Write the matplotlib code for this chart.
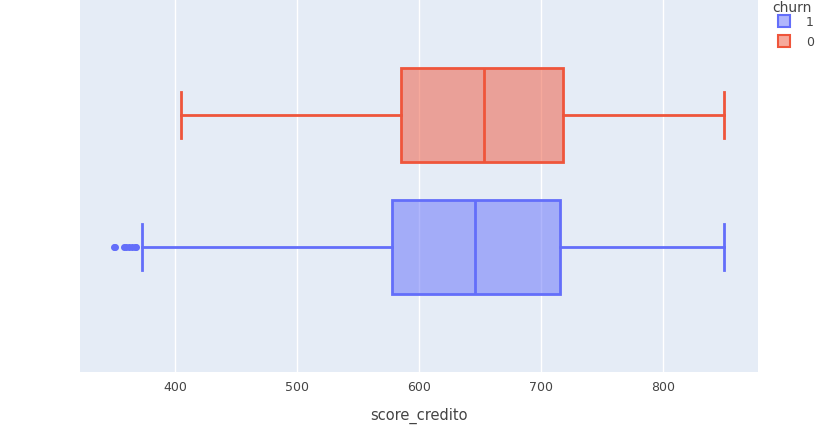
import matplotlib.pyplot as plt

# valores (score_credito por churn)
grupos = ["1", "0"]
colores = ["#636efa", "#EF553B"]
minimos = [373, 405]
q1 = [578, 585]
medianas = [646, 653]
q3 = [716, 718]
maximos = [850, 850]
outliers = [[350, 351, 358, 360, 362, 365, 367, 368], []]

fig = plt.figure(figsize=(8.36, 4.27), dpi=100)
ax = fig.add_axes([80 / 836, 1 - 373 / 427, 678 / 836, 373 / 427])
ax.set_facecolor("#E5ECF6")

stats = []
for i in range(len(grupos)):
    stats.append({"whislo": minimos[i], "q1": q1[i], "med": medianas[i],
                  "q3": q3[i], "whishi": maximos[i], "fliers": outliers[i]})

for i, s in enumerate(stats):
    c = colores[i]
    ax.bxp([s], positions=[i], widths=0.705, vert=False, patch_artist=True,
           boxprops=dict(facecolor=c + "80", edgecolor=c, linewidth=2),
           medianprops=dict(color=c, linewidth=2),
           whiskerprops=dict(color=c, linewidth=2),
           capprops=dict(color=c, linewidth=2),
           flierprops=dict(marker="o", markerfacecolor=c, markeredgecolor=c, markersize=4),
           capwidths=0.35)

ax.set_ylim(-0.947, 1.879)
ax.set_xlim(322, 878)
ax.set_yticks([])
ax.set_xticks([400, 500, 600, 700, 800])
ax.tick_params(axis="x", length=0, colors="#444444", labelsize=9, pad=6)
ax.grid(axis="x", color="white", linewidth=1)
ax.set_axisbelow(True)
for sp in ax.spines.values():
    sp.set_visible(False)
ax.set_xlabel("score_credito", fontsize=10.5, color="#444444", labelpad=10)

fig.text(772 / 836, 1 - 8 / 427, "churn", fontsize=10, color="#444444", va="center")
for i, g in enumerate(grupos):
    y = 1 - (22 + 20 * i) / 427
    fig.patches.append(plt.Rectangle((778 / 836, y - 6 / 427), 12 / 836, 12 / 427,
                                     transform=fig.transFigure, facecolor=colores[i] + "80",
                                     edgecolor=colores[i], linewidth=1.5))
    fig.text(806 / 836, y, g, fontsize=9, color="#444444", va="center")

fig.savefig("out.png", dpi=100)
